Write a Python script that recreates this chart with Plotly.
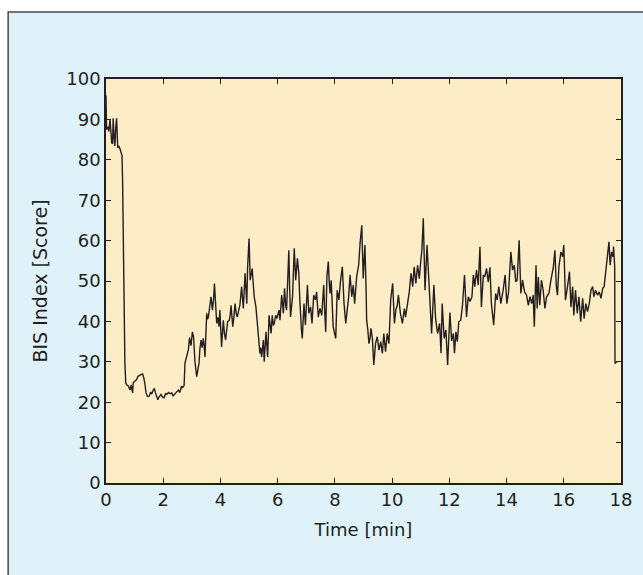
import plotly.graph_objects as go

time_min = [
    0.00, 0.02, 0.06, 0.10, 0.14, 0.17, 0.20, 0.23, 0.25, 0.28, 0.31, 0.34, 0.37, 0.41, 0.45, 0.50, 0.56, 0.58, 0.60, 0.63, 0.66, 0.69,
    0.72, 0.78, 0.84, 0.88, 0.93, 0.95, 1.00, 1.07, 1.12, 1.17, 1.22, 1.28, 1.32, 1.36, 1.40, 1.45, 1.51, 1.56, 1.60, 1.65, 1.69,
    1.73, 1.77, 1.81, 1.86, 1.92, 1.97, 2.03, 2.08, 2.13, 2.18, 2.24, 2.30, 2.35, 2.40, 2.44, 2.48, 2.53, 2.58, 2.64, 2.68, 2.73,
    2.76, 2.82, 2.88, 2.92, 2.97, 3.02, 3.06, 3.11, 3.14, 3.17, 3.21, 3.25, 3.28, 3.32, 3.36, 3.40, 3.43, 3.46, 3.52, 3.55, 3.58,
    3.63, 3.67, 3.72, 3.76, 3.79, 3.83, 3.87, 3.91, 3.95, 3.98, 4.04, 4.07, 4.10, 4.14, 4.18, 4.22, 4.25, 4.31, 4.34, 4.37, 4.43,
    4.47, 4.51, 4.55, 4.59, 4.63, 4.68, 4.74, 4.77, 4.80, 4.86, 4.89, 4.92, 4.95, 5.00, 5.04, 5.08, 5.11, 5.15, 5.18, 5.24, 5.30,
    5.34, 5.38, 5.41, 5.44, 5.50, 5.53, 5.59, 5.65, 5.70, 5.74, 5.77, 5.81, 5.85, 5.88, 5.93, 5.97, 6.01, 6.05, 6.08, 6.12, 6.14,
    6.20, 6.24, 6.28, 6.31, 6.35, 6.39, 6.42, 6.45, 6.49, 6.52, 6.58, 6.61, 6.63, 6.69, 6.74, 6.77, 6.80, 6.83, 6.86, 6.92, 6.97,
    7.04, 7.09, 7.15, 7.20, 7.26, 7.32, 7.36, 7.42, 7.48, 7.54, 7.61, 7.64, 7.68, 7.72, 7.77, 7.80, 7.83, 7.87, 7.91, 7.94, 7.99,
    8.03, 8.08, 8.14, 8.20, 8.26, 8.32, 8.38, 8.43, 8.48, 8.53, 8.59, 8.64, 8.69, 8.76, 8.83, 8.88, 8.94, 8.99, 9.02, 9.05, 9.09,
    9.11, 9.15, 9.19, 9.23, 9.26, 9.31, 9.36, 9.42, 9.48, 9.54, 9.60, 9.66, 9.71, 9.77, 9.83, 9.89, 9.95, 10.02, 10.05, 10.08,
    10.13, 10.18, 10.22, 10.29, 10.36, 10.43, 10.47, 10.53, 10.60, 10.66, 10.72, 10.77, 10.83, 10.89, 10.95, 11.00, 11.04, 11.09,
    11.15, 11.22, 11.26, 11.32, 11.38, 11.46, 11.52, 11.59, 11.66, 11.71, 11.75, 11.82, 11.88, 11.94, 12.02, 12.08, 12.14, 12.18,
    12.23, 12.28, 12.33, 12.40, 12.46, 12.53, 12.60, 12.66, 12.72, 12.79, 12.84, 12.89, 12.95, 13.01, 13.07, 13.12, 13.19, 13.24,
    13.30, 13.36, 13.42, 13.47, 13.51, 13.55, 13.62, 13.67, 13.73, 13.80, 13.88, 13.95, 14.01, 14.07, 14.15, 14.21, 14.27, 14.32,
    14.37, 14.44, 14.50, 14.56, 14.63, 14.70, 14.76, 14.82, 14.88, 14.93, 14.97, 15.03, 15.07, 15.11, 15.16, 15.22, 15.28, 15.34,
    15.40, 15.48, 15.55, 15.63, 15.69, 15.74, 15.78, 15.83, 15.90, 15.96, 16.00, 16.06, 16.13, 16.20, 16.25, 16.31, 16.35, 16.41,
    16.47, 16.53, 16.59, 16.66, 16.71, 16.77, 16.83, 16.89, 16.95, 17.01, 17.05, 17.11, 17.18, 17.24, 17.30, 17.36, 17.41, 17.47,
    17.53, 17.58, 17.62, 17.67, 17.72, 17.74, 17.78, 17.79, 17.85,
]

bis_score = [
    96.0, 87.5, 88.2, 87.0, 90.0, 86.5, 84.2, 84.0, 90.3, 86.0, 83.4, 88.0, 90.3, 83.0, 83.4, 82.5, 81.0, 75.0, 58.5, 42.0, 29.7, 24.8,
    24.3, 24.0, 23.0, 24.3, 22.3, 24.8, 25.2, 25.6, 26.4, 26.7, 26.8, 27.0, 26.1, 24.5, 22.3, 21.4, 21.5, 22.5, 22.0, 23.0, 23.4,
    22.3, 21.5, 20.6, 21.4, 21.9, 21.3, 21.1, 22.1, 22.0, 22.4, 22.1, 22.3, 21.5, 22.0, 22.3, 22.8, 23.0, 22.4, 24.0, 23.6, 24.1,
    29.7, 31.5, 33.0, 36.0, 34.0, 37.4, 36.2, 30.0, 28.0, 26.3, 28.0, 29.6, 33.0, 35.4, 33.5, 35.8, 34.0, 31.2, 42.0, 40.5, 41.1,
    44.0, 46.1, 42.8, 45.5, 49.4, 44.0, 39.5, 41.0, 38.7, 42.8, 33.7, 37.0, 40.3, 37.0, 35.4, 38.0, 39.9, 40.3, 41.5, 44.0, 38.7,
    41.0, 44.4, 42.0, 41.1, 42.5, 44.0, 48.6, 45.5, 43.2, 51.9, 47.0, 44.4, 53.5, 60.5, 50.2, 52.0, 53.1, 49.0, 46.1, 43.6, 38.3,
    36.0, 32.1, 33.5, 31.2, 35.4, 30.0, 37.4, 31.2, 41.5, 38.5, 37.0, 41.5, 39.0, 39.5, 41.5, 40.7, 42.0, 42.8, 40.3, 44.5, 46.5,
    42.0, 48.2, 44.0, 42.8, 50.0, 57.6, 48.0, 41.1, 44.0, 46.1, 58.1, 53.0, 50.2, 55.6, 51.9, 46.0, 41.1, 38.0, 35.8, 44.4, 39.1,
    49.0, 42.0, 43.6, 39.5, 46.5, 45.3, 47.3, 41.1, 43.2, 41.5, 49.0, 43.0, 37.4, 51.0, 54.8, 50.0, 46.9, 50.2, 44.0, 38.7, 37.0,
    35.8, 47.7, 45.3, 50.2, 53.5, 44.4, 39.5, 42.8, 46.0, 51.5, 46.1, 49.0, 44.4, 51.0, 53.9, 59.3, 63.8, 50.6, 54.0, 58.9, 48.0,
    40.3, 38.0, 34.5, 36.0, 38.3, 35.8, 29.2, 34.5, 36.2, 32.9, 35.0, 32.1, 37.0, 32.5, 37.0, 34.5, 45.3, 49.4, 44.0, 39.5,
    42.8, 44.0, 46.5, 42.0, 39.5, 43.2, 41.1, 43.6, 47.3, 51.9, 48.6, 53.5, 49.4, 53.9, 50.6, 54.8, 57.6, 65.5,
    47.7, 58.9, 52.7, 43.2, 37.0, 49.0, 40.7, 37.0, 39.5, 32.1, 44.4, 35.8, 37.9, 29.2, 42.2, 35.2, 37.0, 32.1,
    37.4, 35.0, 39.9, 40.3, 44.0, 51.5, 41.1, 46.1, 44.9, 46.1, 51.5, 48.6, 52.7, 49.0, 58.5, 43.6, 51.5, 51.0,
    53.1, 49.8, 53.4, 44.4, 42.0, 39.1, 46.9, 45.3, 48.6, 44.4, 47.7, 51.5, 44.4, 47.3, 57.2, 52.7, 53.9, 49.8,
    50.2, 60.1, 46.9, 50.2, 47.3, 46.5, 44.0, 46.1, 44.4, 46.5, 38.7, 53.9, 43.2, 51.0, 44.0, 50.2, 47.7, 43.2,
    46.1, 46.9, 50.2, 53.1, 57.6, 48.6, 46.5, 53.5, 57.2, 56.0, 58.9, 45.3, 48.6, 52.3, 43.6, 48.6, 41.5, 47.7,
    42.0, 46.1, 39.9, 45.7, 40.7, 44.4, 42.4, 44.4, 47.7, 48.6, 46.1, 47.7, 46.5, 47.3, 45.7, 48.2, 48.6, 52.3,
    57.6, 59.7, 53.9, 57.2, 56.0, 58.5, 53.5, 29.6, 30.0,
]

x_ticks = [0, 2, 4, 6, 8, 10, 12, 14, 16, 18]
y_ticks = [0, 10, 20, 30, 40, 50, 60, 70, 80, 90, 100]

ink = "#231f20"
family = "DejaVu Sans, Liberation Sans, Arial, sans-serif"
tick_font = dict(family=family, size=18, color=ink)
xtitle_font = dict(family=family, size=18, color=ink)
ytitle_font = dict(family=family, size=19, color=ink)

fig = go.Figure()
fig.add_trace(go.Scatter(
    x=time_min, y=bis_score, mode="lines",
    line=dict(color=ink, width=1.4),
    showlegend=False, hoverinfo="skip",
))

# outer light-blue panel with dark frame (open to the right and bottom)
fig.add_shape(
    type="rect", xref="paper", yref="paper",
    x0=-0.19, x1=1.2, y0=-0.4, y1=1.166,
    fillcolor="#dff2fa", line=dict(color="#4a4a4a", width=1.5),
    layer="below",
)
# beige plotting area on top of the panel
fig.add_shape(
    type="rect", xref="paper", yref="paper",
    x0=0, x1=1, y0=0, y1=1,
    fillcolor="#fdedc6", line=dict(width=0),
    layer="below",
)

fig.update_layout(
    width=643, height=575,
    margin=dict(l=106, r=22, t=79, b=92),
    paper_bgcolor="white",
    plot_bgcolor="#fdedc6",
    font=tick_font,
    xaxis=dict(
        range=[0, 18], tickvals=x_ticks, ticktext=[str(v) for v in x_ticks],
        ticks="inside", ticklen=5, tickwidth=1.2, tickcolor=ink,
        showline=True, linecolor=ink, linewidth=1.5, mirror="ticks",
        showgrid=False, zeroline=False,
        title=dict(text="Time [min]", font=xtitle_font, standoff=14),
        tickfont=tick_font,
    ),
    yaxis=dict(
        range=[0, 100], tickvals=y_ticks, ticktext=[str(v) for v in y_ticks],
        ticks="inside", ticklen=5, tickwidth=1.2, tickcolor=ink,
        showline=True, linecolor=ink, linewidth=1.5, mirror="ticks",
        showgrid=False, zeroline=False,
        title=dict(text="BIS Index [Score]", font=ytitle_font, standoff=14),
        tickfont=tick_font,
    ),
)

fig.write_html(
    "out.html",
    config=dict(displayModeBar=False),
    post_script="document.body.style.margin='0';document.body.style.overflow='hidden';",
)
